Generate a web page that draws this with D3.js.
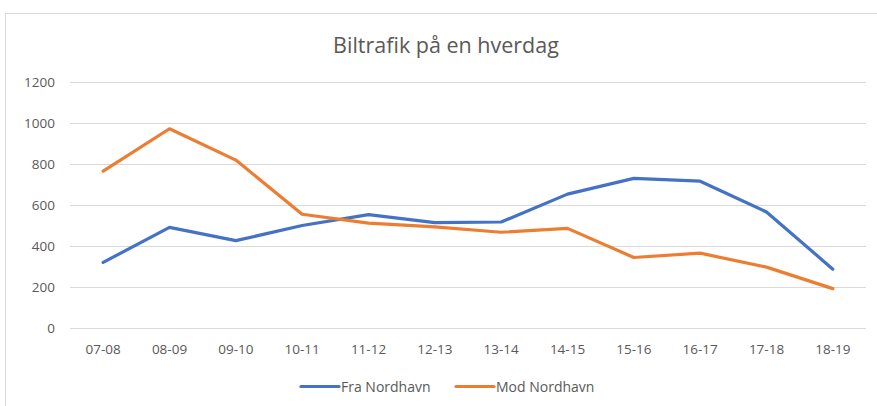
<!DOCTYPE html>
<html><head><meta charset="utf-8">
<script src="https://cdn.jsdelivr.net/npm/d3@7/dist/d3.min.js"></script>
<style>
html,body{margin:0;padding:0;background:#fff;}
svg{display:block;}
text{font-family:"Open Sans","Noto Sans",sans-serif;}
</style></head>
<body>
<svg id="c" width="877" height="406"></svg>
<script>
const categories = ["07-08","08-09","09-10","10-11","11-12","12-13","13-14","14-15","15-16","16-17","17-18","18-19"];
const fraNordhavn = [320, 491, 426, 500, 553, 514, 517, 653, 730, 716, 566, 287];
const modNordhavn = [765, 972, 819, 555, 512, 493, 467, 486, 344, 365, 297, 192];
const yTicks = [0, 200, 400, 600, 800, 1000, 1200];
const seriesNames = ["Fra Nordhavn", "Mod Nordhavn"];
const seriesColors = ["#4472C4", "#ED7D31"];

const svg = d3.select("#c");
// chart frame (partially cropped)
svg.append("rect").attr("x",5.5).attr("y",13.5).attr("width",900).attr("height",420)
  .attr("fill","#fff").attr("stroke","#D9D9D9").attr("stroke-width",1);

const pL = 70, pR = 866, pT = 82, pB = 328;
const x = d3.scaleBand().domain(categories).range([pL, pR]);
const y = d3.scaleLinear().domain([0, 1200]).range([pB, pT]);

// gridlines
svg.append("g").selectAll("line").data(yTicks).join("line")
  .attr("x1", pL).attr("x2", pR)
  .attr("y1", d => Math.round(y(d)) + 0.5).attr("y2", d => Math.round(y(d)) + 0.5)
  .attr("stroke", "#D9D9D9").attr("stroke-width", 1);

// y axis labels
const yAxis = d3.axisLeft(y).tickValues(yTicks).tickFormat(d3.format("d")).tickSize(0).tickPadding(0);
const gy = svg.append("g").attr("transform", `translate(${pL-15},0)`).call(yAxis);
gy.select(".domain").remove();
gy.selectAll("text").attr("fill", "#595959").style("font-size", "13.5px").attr("dy","0.35em");

// x axis labels
const xAxis = d3.axisBottom(x).tickSize(0).tickPadding(0);
const gx = svg.append("g").attr("transform", `translate(0,${pB+16})`).call(xAxis);
gx.select(".domain").remove();
gx.selectAll("text").attr("fill", "#595959").style("font-size", "13.5px").attr("dy","0.71em");

// lines
const line = d3.line().x((d,i) => x(categories[i]) + x.bandwidth()/2).y(d => y(d));
[fraNordhavn, modNordhavn].forEach((vals, k) => {
  svg.append("path").datum(vals).attr("d", line)
    .attr("fill", "none").attr("stroke", seriesColors[k]).attr("stroke-width", 3.2)
    .attr("stroke-linejoin", "round").attr("stroke-linecap", "round");
});

// title
svg.append("text").attr("x", 446).attr("y", 53).attr("text-anchor", "middle")
  .attr("fill", "#595959").style("font-size", "21.5px").text("Biltrafik på en hverdag");

// legend
const legendItems = [{x: 301, tx: 341}, {x: 456, tx: 496}];
legendItems.forEach((it, k) => {
  svg.append("line").attr("x1", it.x).attr("x2", it.x + 38).attr("y1", 386.5).attr("y2", 386.5)
    .attr("stroke", seriesColors[k]).attr("stroke-width", 3.2).attr("stroke-linecap", "round");
  svg.append("text").attr("x", it.tx).attr("y", 387.5).attr("dy", "0.35em")
    .attr("fill", "#595959").style("font-size", "14px").text(seriesNames[k]);
});
</script>
</body></html>
